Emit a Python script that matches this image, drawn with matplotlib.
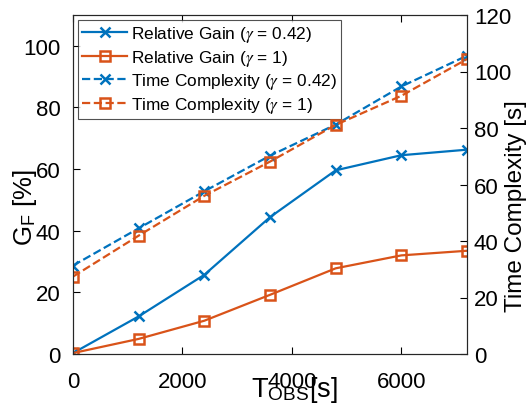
import numpy as np
import matplotlib.pyplot as plt

plt.rcParams["font.family"] = ["Liberation Sans", "DejaVu Sans"]
plt.rcParams["mathtext.fontset"] = "stix"

# 观测时间 [s]
t_obs = [0, 1200, 2400, 3600, 4800, 6000, 7200]

# 相对增益 G_F [%]
gain_042 = [0.3, 12.2, 25.7, 44.4, 59.6, 64.5, 66.3]
gain_1 = [0.3, 4.9, 10.8, 19.2, 27.8, 32.0, 33.5]

# 时间复杂度 [s]
time_042 = [31.3, 44.5, 57.6, 70.2, 81.2, 94.7, 105.6]
time_1 = [27.4, 41.9, 56.0, 68.1, 81.1, 91.4, 104.4]

blue = "#0072BD"
orange = "#D95319"

W, H = 532, 414
fig = plt.figure(figsize=(W / 100, H / 100), dpi=100)
ax = fig.add_axes([73 / W, 1 - 355 / H, (467 - 73) / W, (355 - 16) / H])
ax2 = ax.twinx()

l1, = ax.plot(t_obs, gain_042, "-x", color=blue, lw=1.6, ms=7, mew=1.8,
              label="Relative Gain ($\\gamma$ = 0.42)")
l2, = ax.plot(t_obs, gain_1, "-s", color=orange, lw=1.6, ms=7, mew=1.8, mfc="none",
              label="Relative Gain ($\\gamma$ = 1)")
l3, = ax2.plot(t_obs, time_042, "--x", color=blue, lw=1.6, ms=7, mew=1.8,
               label="Time Complexity ($\\gamma$ = 0.42)")
l4, = ax2.plot(t_obs, time_1, "--s", color=orange, lw=1.6, ms=7, mew=1.8, mfc="none",
               label="Time Complexity ($\\gamma$ = 1)")

ax.set_xlim(0, 7200)
ax.set_ylim(0, 110)
ax2.set_ylim(0, 120)
ax.set_xticks([0, 2000, 4000, 6000])
ax.set_yticks([0, 20, 40, 60, 80, 100])
ax2.set_yticks([0, 20, 40, 60, 80, 100, 120])

ax.tick_params(axis="x", direction="in", labelsize=16, top=True, length=5, pad=12)
ax.tick_params(axis="y", direction="in", labelsize=16, right=False, length=5, pad=9)
ax2.tick_params(direction="in", labelsize=16, length=5, pad=5)
for a in (ax, ax2):
    for s in a.spines.values():
        s.set_color("#262626")
        s.set_linewidth(0.8)

# 标签位置仿照原图（x 标签压在刻度上），用像素坐标定位
ax.set_xlabel("T$_{\\mathregular{OBS}}$[s]", fontsize=19.5, va="baseline")
ax.xaxis.set_label_coords(294 / W, 1 - 397 / H, transform=fig.transFigure)
ax.set_ylabel("G$_{\\mathregular{F}}$ [%]", fontsize=18.5, va="center")
ax.yaxis.set_label_coords(25 / W, 1 - 207 / H, transform=fig.transFigure)
ax2.set_ylabel("Time Complexity [s]", fontsize=17.5, va="center")
ax2.yaxis.set_label_coords(516 / W, 1 - 206 / H, transform=fig.transFigure)

leg = ax.legend(handles=[l1, l2, l3, l4], loc="upper left", fontsize=12.4,
                frameon=True, fancybox=False, borderaxespad=0.3,
                handlelength=2.6, handletextpad=0.2, labelspacing=0.2,
                borderpad=0.25)
leg.get_frame().set_edgecolor("#262626")
leg.get_frame().set_linewidth(0.8)

plt.savefig("out.png", dpi=100)
